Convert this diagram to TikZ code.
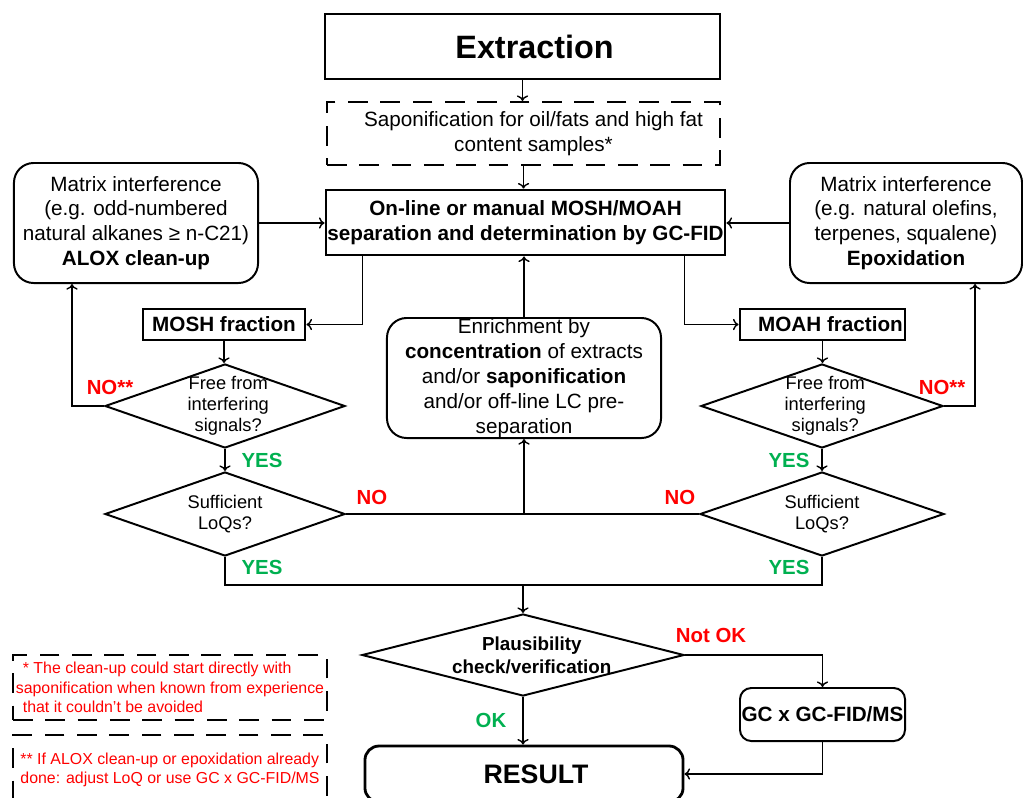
\documentclass[tikz,border=0pt]{standalone}
\usepackage{fontspec}
\setmainfont{Liberation Sans}
\usetikzlibrary{arrows.meta,shapes.geometric,calc}
\definecolor{nored}{HTML}{FF0000}
\definecolor{yesgreen}{HTML}{00B050}

\begin{document}
\begin{tikzpicture}[x=0.025cm,y=-0.025cm,>={To[length=4pt,width=8pt]},
  every node/.style={font=\fontsize{14.7}{17.7}\selectfont,align=center},
  box/.style={draw,line width=2pt,inner sep=0pt},
  roundbox/.style={draw,line width=1.4pt,rounded corners=14pt,inner sep=0pt},
  dashbox/.style={draw,line width=1.4pt,dash pattern=on 14pt off 9pt,inner sep=0pt},
  question/.style={draw,diamond,line width=1.4pt,inner sep=0pt},
  qtext/.style={font=\fontsize{13}{15}\selectfont,align=center},
  boldtext/.style={font=\fontsize{14.7}{17.7}\selectfont\bfseries},
  link/.style={line width=1pt},
  answer/.style={font=\fontsize{14.5}{17}\selectfont\bfseries},
  yeslabel/.style={answer,text=yesgreen},
  nolabel/.style={answer,text=nored}]
\useasboundingbox (0,0) rectangle (1023,797);

\node[box,minimum width=9.875cm,minimum height=1.625cm,font=\fontsize{23}{27}\selectfont\bfseries] (extr) at (522.5,46.5) {\hspace*{0.6cm}Extraction};
\node[dashbox,minimum width=9.825cm,minimum height=1.575cm] (sapon) at (523.5,133.5) {\hspace*{0.5cm}Saponification for oil/fats and high fat\\\hspace*{0.5cm}content samples*};
\node[box,boldtext,minimum width=9.975cm,minimum height=1.625cm] (online) at (525.5,222.5) {On-line or manual MOSH/MOAH\\separation and determination by GC-FID};
\node[roundbox,minimum width=6.1cm,minimum height=3cm] (matL) at (136,223) {Matrix interference\\(e.g. odd-numbered\\natural alkanes ≥ n-C21)\\\textbf{ALOX clean-up}};
\node[roundbox,minimum width=5.8cm,minimum height=3cm] (matR) at (906,223) {Matrix interference\\(e.g. natural olefins,\\terpenes, squalene)\\\textbf{Epoxidation}};
\node[box,boldtext,minimum width=4.05cm,minimum height=0.775cm] (mosh) at (224,324.5) {MOSH fraction};
\node[box,boldtext,minimum width=4.125cm,minimum height=0.775cm] (moah) at (822.5,324.5) {\hspace*{0.4cm}MOAH fraction};
\node[roundbox,minimum width=6.85cm,minimum height=3cm] (enrich) at (524,378) {Enrichment by\\\textbf{concentration} of extracts\\and/or \textbf{saponification}\\and/or off-line LC pre-\\separation};
\node[question,minimum width=6cm,minimum height=2.1cm,label={[qtext,xshift=0.08cm]center:Free from\\interfering\\signals?}] (freeL) at (225,406) {};
\node[question,minimum width=6.05cm,minimum height=2.1cm,label={[qtext,xshift=0.08cm]center:Free from\\interfering\\signals?}] (freeR) at (822,406) {};
\node[question,minimum width=6cm,minimum height=2.1cm,label={[qtext]center:Sufficient\\LoQs?}] (sufL) at (225,514) {};
\node[question,minimum width=6.1cm,minimum height=2.1cm,label={[qtext]center:Sufficient\\LoQs?}] (sufR) at (822,514) {};
\node[question,minimum width=8.05cm,minimum height=2.05cm,label={[qtext,xshift=0.22cm,font=\fontsize{13.4}{16.3}\selectfont\bfseries]center:Plausibility\\check/verification}] (plaus) at (523,655) {};
\node[roundbox,boldtext,rounded corners=8pt,minimum width=4.125cm,minimum height=1.325cm] (gc) at (822.5,714.5) {GC x GC-FID/MS};
\node[roundbox,line width=2pt,rounded corners=10pt,minimum width=7.95cm,minimum height=1.4cm,font=\fontsize{19}{22}\selectfont\bfseries] (result) at (524,774) {\hspace*{0.6cm}RESULT};
\node[dashbox,minimum width=7.85cm,minimum height=1.625cm,text=nored,align=left,font=\fontsize{11.3}{13.8}\selectfont] (note1) at (170,687.5) {\hspace{5pt}* The clean-up could start directly with\\saponification when known from experience\\\hspace{5pt}that it couldn’t be avoided};
\node[dashbox,minimum width=7.85cm,minimum height=1.75cm,text=nored,align=left,font=\fontsize{11.3}{13.8}\selectfont] (note2) at (170,770) {** If ALOX clean-up or epoxidation already\\done: adjust LoQ or use GC x GC-FID/MS};

\node[nolabel] (noL) at (110,387) {NO**};
\node[nolabel] (noR) at (942,387) {NO**};
\node[yeslabel] (yesL) at (262,460) {YES};
\node[yeslabel] (yesR) at (789,460) {YES};
\node[nolabel] (noSufL) at (372,497) {NO};
\node[nolabel] (noSufR) at (680,497) {NO};
\node[yeslabel] (yesSufL) at (262,567) {YES};
\node[yeslabel] (yesSufR) at (789,567) {YES};
\node[nolabel] (notok) at (711,635) {Not OK};
\node[yeslabel] (ok) at (491,720) {OK};

\draw[link,->] (extr.south) -- (extr.south |- sapon.north);
\draw[link,->] (sapon.south) -- (sapon.south |- online.north);
\draw[link,->] (matL.east) -- (matL.east -| online.west);
\draw[link,->] (matR.west) -- (matR.west -| online.east);
\draw[link,->] ([xshift=0.95cm]online.south west) |- (mosh.east);
\draw[link,->] ([xshift=-1.05cm]online.south east) |- (moah.west);
\draw[link,->] (mosh.south) -- (mosh.south |- freeL.north);
\draw[link,->] (moah.south) -- (moah.south |- freeR.north);
\draw[link,->] (freeL.west) -| ([xshift=1.475cm]matL.south west);
\draw[link,->] (freeR.east) -| ([xshift=4.65cm]matR.south west);
\draw[link,->] (freeL) -- (sufL);
\draw[link,->] (freeR) -- (sufR);
\draw[link] (sufL.east) -- (sufR.west);
\draw[link,->] (sufL.east -| enrich.south) -- (enrich.south);
\draw[link,->] (enrich.north) -- (enrich.north |- online.south);
\coordinate (join) at (523,585);
\draw[link] (sufL.south) |- (join) -| (sufR.south);
\draw[link,->] (join) -- (plaus.north);
\draw[link,->] (plaus.east) -| (gc.north);
\draw[link,->] (plaus.south) -- (plaus.south |- result.north);
\draw[link,->] (gc.south) |- (result.east);
\end{tikzpicture}
\end{document}
